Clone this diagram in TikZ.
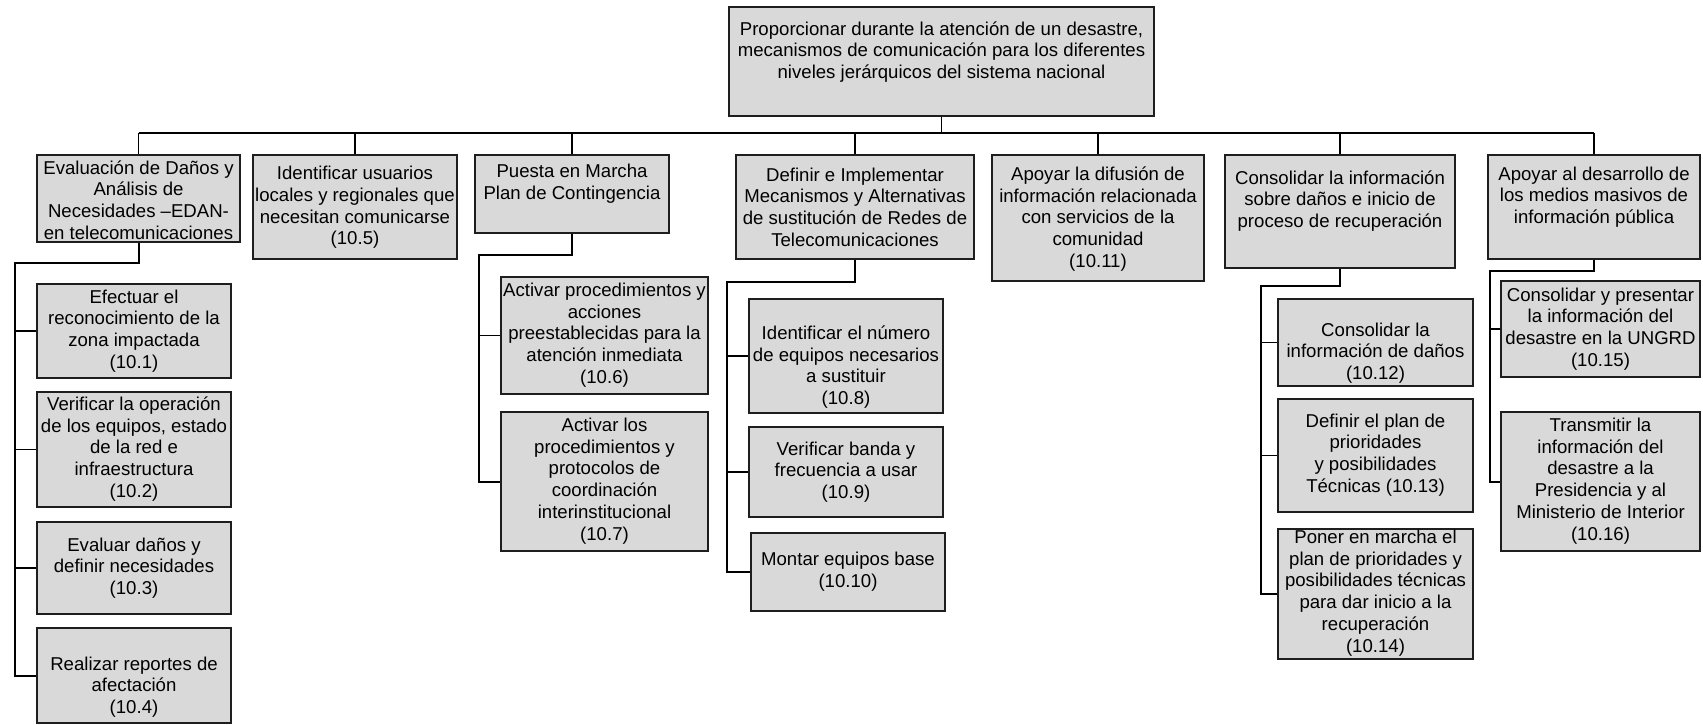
\documentclass[tikz,border=0pt]{standalone}
\usepackage{fontspec}
\setmainfont{Liberation Sans}
\definecolor{boxgray}{RGB}{217,217,217}
\definecolor{edge}{RGB}{30,30,30}
\tikzset{
  box/.style={draw=edge, line width=1.1pt, fill=boxgray, inner sep=0pt},
  lbl/.style={align=center, inner sep=0pt, font=\fontsize{18.6}{21.7}\selectfont},
  link/.style={line width=1.5pt, draw=black},
  trunk/.style={line width=2pt, draw=black},
}
% \orgbox{name}{x1}{y1}{x2}{y2}{text centre y}{text}
\newcommand{\orgbox}[7]{%
  \node[box, minimum width={#4pt-#2pt}, minimum height={#5pt-#3pt}] (#1) at ({(#2+#4)/2},{(#3+#5)/2}) {};
  \node[lbl] (#1-t) at ({(#2+#4)/2},#6) {#7};
}
\begin{document}
\begin{tikzpicture}[x=1pt, y=-1pt]
\useasboundingbox (0,0) rectangle (1703,724);

% top level
\orgbox{root}{729}{7}{1154}{116}{52}{Proporcionar durante la atención de un desastre,\\mecanismos de comunicación para los diferentes\\niveles jerárquicos del sistema nacional}

% second level
\orgbox{b1}{37}{155}{240}{242}{200}{Evaluación de Daños y\\Análisis de\\Necesidades –EDAN-\\en telecomunicaciones}
\orgbox{b2}{253}{155}{457}{259}{207.5}{Identificar usuarios\\locales y regionales que\\necesitan comunicarse\\(10.5)}
\orgbox{b3}{475}{155}{669}{233}{184}{Puesta en Marcha\\Plan de Contingencia}
\orgbox{b4}{736}{155}{974}{259}{207}{Definir e Implementar\\Mecanismos y Alternativas\\de sustitución de Redes de\\Telecomunicaciones}
\orgbox{b5}{992}{155}{1204}{281}{219}{Apoyar la difusión de\\información relacionada\\con servicios de la\\comunidad\\(10.11)}
\orgbox{b6}{1225}{155}{1455}{268}{201}{Consolidar la información\\sobre daños e inicio de\\proceso de recuperación}
\orgbox{b7}{1488}{155}{1700}{259}{197}{Apoyar al desarrollo de\\los medios masivos de\\información pública}

% third level
\orgbox{c101}{37}{284}{231}{378}{331}{Efectuar el\\reconocimiento de la\\zona impactada\\(10.1)}
\orgbox{c102}{37}{392}{231}{507}{449}{Verificar la operación\\de los equipos, estado\\de la red e\\infraestructura\\(10.2)}
\orgbox{c103}{37}{522}{231}{614}{568}{Evaluar daños y\\definir necesidades\\(10.3)}
\orgbox{c104}{37}{628}{231}{723}{687}{Realizar reportes de\\afectación\\(10.4)}

\orgbox{c106}{501}{277}{708}{394}{335}{Activar procedimientos y\\acciones\\preestablecidas para la\\atención inmediata\\(10.6)}
\orgbox{c107}{501}{412}{708}{551}{481}{Activar los\\procedimientos y\\protocolos de\\coordinación\\interinstitucional\\(10.7)}

\orgbox{c108}{749}{299}{943}{413}{367}{Identificar el número\\de equipos necesarios\\a sustituir\\(10.8)}
\orgbox{c109}{749}{427}{943}{517}{472}{Verificar banda y\\frecuencia a usar\\(10.9)}
\orgbox{c110}{751}{533}{945}{611}{572}{Montar equipos base\\(10.10)}

\orgbox{c112}{1278}{299}{1473}{386}{353}{Consolidar la\\información de daños\\(10.12)}
\orgbox{c113}{1278}{399}{1473}{512}{455}{Definir el plan de\\prioridades\\y posibilidades\\Técnicas (10.13)}
\orgbox{c114}{1278}{529}{1473}{659}{593}{Poner en marcha el\\plan de prioridades y\\posibilidades técnicas\\para dar inicio a la\\recuperación\\(10.14)}

\orgbox{c115}{1501}{281}{1700}{377}{329}{Consolidar y presentar\\la información del\\desastre en la UNGRD\\(10.15)}
\orgbox{c116}{1501}{412}{1700}{551}{481}{Transmitir la\\información del\\desastre a la\\Presidencia y al\\Ministerio de Interior\\(10.16)}

% bus under the root
\coordinate (bus) at (0,133);
\draw[link] (root.south) -- (root.south |- bus);
\draw[link] (b1.north |- bus) -- (b7.north |- bus);
\foreach \b in {b1,b2,b3,b4,b5,b6,b7}
  \draw[link] (\b.north |- bus) -- (\b.north);

% branch corners
\coordinate (k1) at (15,263);
\coordinate (k3) at (479,255);
\coordinate (k4) at (727,282);
\coordinate (k6) at (1261,286);
\coordinate (k7) at (1490,271);

% branches to the third level
\draw[trunk] (b1.south) |- (k1) |- (c104.west);
\foreach \c in {c101,c102,c103}
  \draw[link] (k1 |- \c.west) -- (\c.west);

\draw[trunk] (b3.south) |- (k3) |- (c107.west);
\draw[link] (k3 |- c106.west) -- (c106.west);

\draw[trunk] (b4.south) |- (k4) |- (c110.west);
\foreach \c in {c108,c109}
  \draw[link] (k4 |- \c.west) -- (\c.west);

\draw[trunk] (b6.south) |- (k6) |- (c114.west);
\foreach \c in {c112,c113}
  \draw[link] (k6 |- \c.west) -- (\c.west);

\draw[trunk] (b7.south) |- (k7) |- (c116.west);
\draw[link] (k7 |- c115.west) -- (c115.west);
\end{tikzpicture}
\end{document}
